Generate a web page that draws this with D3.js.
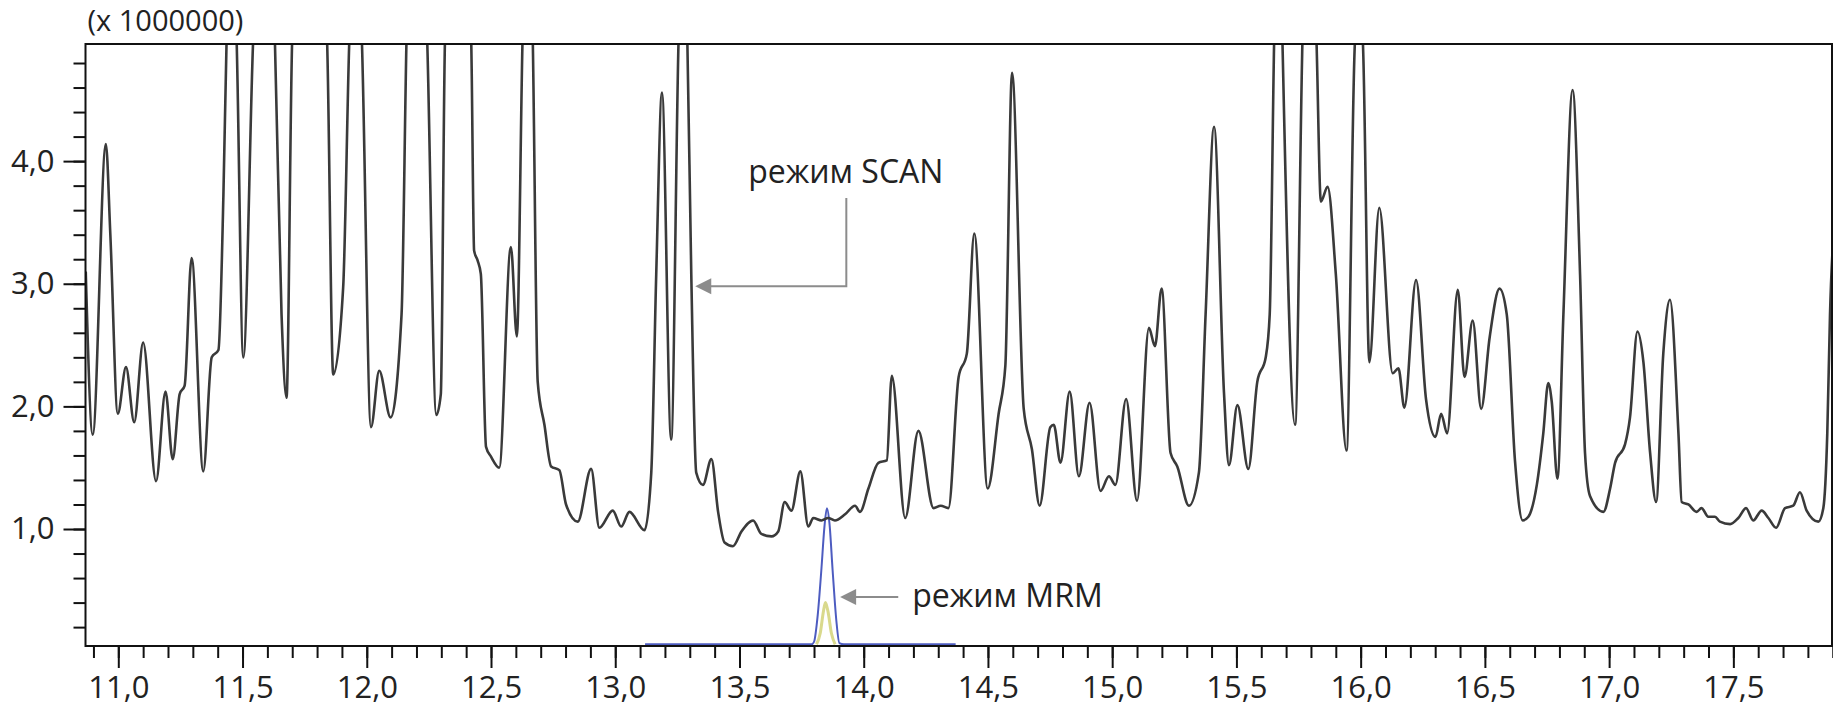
<!DOCTYPE html>
<html>
<head>
<meta charset="utf-8">
<script src="https://cdn.jsdelivr.net/npm/d3@7"></script>
<style>
  html, body { margin: 0; padding: 0; background: #fff; }
  svg { display: block; }
</style>
</head>
<body>
<div id="chart"></div>
<script>
// retention time, min  /  signal, x 1 000 000 (SCAN trace)
const scanTime = [
  10.869, 10.897, 10.950, 10.968, 10.998, 11.031, 11.064, 11.100, 11.152, 11.190,
  11.219, 11.247, 11.267, 11.295, 11.342, 11.376, 11.403, 11.423, 11.436, 11.456,
  11.476, 11.503, 11.543, 11.585, 11.630, 11.657, 11.677, 11.700, 11.770, 11.840,
  11.865, 11.905, 11.930, 11.955, 11.980, 12.017, 12.050, 12.096, 12.140, 12.160,
  12.200, 12.243, 12.280, 12.298, 12.315, 12.365, 12.420, 12.432, 12.446, 12.459,
  12.480, 12.500, 12.533, 12.580, 12.604, 12.627, 12.648, 12.668, 12.688, 12.715,
  12.742, 12.775, 12.802, 12.849, 12.903, 12.936, 12.990, 13.024, 13.057, 13.118,
  13.145, 13.165, 13.188, 13.225, 13.255, 13.272, 13.290, 13.306, 13.326, 13.353,
  13.387, 13.414, 13.440, 13.474, 13.508, 13.555, 13.588, 13.629, 13.656, 13.682,
  13.709, 13.745, 13.777, 13.797, 13.830, 13.857, 13.884, 13.925, 13.965, 13.985,
  14.019, 14.059, 14.093, 14.113, 14.167, 14.220, 14.281, 14.310, 14.341, 14.382,
  14.415, 14.445, 14.499, 14.543, 14.570, 14.597, 14.644, 14.677, 14.708, 14.751,
  14.765, 14.792, 14.829, 14.866, 14.909, 14.953, 14.987, 15.013, 15.056, 15.100,
  15.148, 15.172, 15.199, 15.235, 15.262, 15.309, 15.349, 15.376, 15.410, 15.450,
  15.470, 15.504, 15.548, 15.584, 15.618, 15.634, 15.652, 15.670, 15.685, 15.736,
  15.766, 15.790, 15.822, 15.840, 15.867, 15.900, 15.943, 15.978, 15.994, 16.008,
  16.035, 16.075, 16.129, 16.152, 16.176, 16.223, 16.263, 16.301, 16.324, 16.348,
  16.391, 16.418, 16.451, 16.485, 16.519, 16.559, 16.588, 16.621, 16.652, 16.675,
  16.709, 16.735, 16.755, 16.769, 16.792, 16.816, 16.853, 16.883, 16.903, 16.923,
  16.977, 17.004, 17.024, 17.064, 17.084, 17.114, 17.138, 17.165, 17.189, 17.218,
  17.245, 17.279, 17.292, 17.319, 17.352, 17.372, 17.399, 17.426, 17.446, 17.487,
  17.520, 17.551, 17.580, 17.614, 17.641, 17.672, 17.708, 17.741, 17.768, 17.795,
  17.842, 17.862, 17.878, 17.889, 17.910
];
const scanSignal = [
  3.10, 1.77, 4.14, 3.40, 1.94, 2.32, 1.87, 2.52, 1.39, 2.12,
  1.57, 2.10, 2.17, 3.21, 1.47, 2.40, 2.46, 3.72, 5.00, 6.00,
  5.00, 2.40, 5.00, 6.50, 5.00, 2.75, 2.07, 5.00, 7.00, 5.00,
  2.26, 2.97, 5.00, 6.00, 5.00, 1.83, 2.29, 1.91, 2.75, 5.00,
  7.00, 5.00, 1.93, 2.10, 5.00, 6.50, 5.00, 3.27, 3.19, 3.08,
  1.67, 1.59, 1.50, 3.30, 2.57, 5.00, 6.50, 5.00, 2.20, 1.85,
  1.51, 1.48, 1.20, 1.06, 1.49, 1.01, 1.15, 1.02, 1.14, 0.99,
  1.46, 3.08, 4.56, 1.73, 5.00, 6.00, 5.00, 3.08, 1.46, 1.36,
  1.57, 1.14, 0.89, 0.86, 0.98, 1.07, 0.96, 0.94, 0.98, 1.22,
  1.15, 1.47, 1.02, 1.09, 1.07, 1.09, 1.07, 1.12, 1.19, 1.14,
  1.33, 1.54, 1.56, 2.25, 1.09, 1.80, 1.17, 1.19, 1.17, 2.24,
  2.43, 3.41, 1.33, 1.94, 2.33, 4.72, 1.98, 1.65, 1.19, 1.83,
  1.85, 1.54, 2.12, 1.43, 2.03, 1.31, 1.43, 1.36, 2.06, 1.23,
  2.64, 2.49, 2.96, 1.62, 1.51, 1.19, 1.46, 2.75, 4.28, 2.11,
  1.52, 2.01, 1.49, 2.20, 2.40, 2.75, 5.00, 6.50, 5.00, 1.85,
  5.00, 6.50, 5.00, 3.67, 3.79, 3.08, 1.64, 5.00, 5.15, 5.00,
  2.36, 3.62, 2.27, 2.31, 1.99, 3.03, 2.06, 1.75, 1.94, 1.78,
  2.95, 2.24, 2.70, 1.98, 2.56, 2.96, 2.75, 1.56, 1.07, 1.10,
  1.36, 1.78, 2.19, 2.04, 1.41, 2.75, 4.58, 3.08, 1.62, 1.27,
  1.14, 1.33, 1.54, 1.69, 1.91, 2.61, 2.36, 1.62, 1.22, 2.43,
  2.87, 1.78, 1.22, 1.20, 1.14, 1.17, 1.10, 1.10, 1.06, 1.04,
  1.09, 1.17, 1.07, 1.15, 1.09, 1.01, 1.17, 1.19, 1.30, 1.15,
  1.06, 1.17, 1.78, 2.75, 3.60
];

// MRM trace (blue) and its qualifier ion (yellow)
const mrmTime   = [13.120, 13.790, 13.800, 13.815, 13.830, 13.842, 13.852, 13.862, 13.875, 13.890, 13.902, 13.920, 14.370];
const mrmSignal = [0.06,   0.06,   0.08,   0.30,   0.68,   1.02,   1.17,   1.05,   0.66,   0.25,   0.07,   0.06,   0.06];
const qualTime   = [13.810, 13.825, 13.838, 13.846, 13.856, 13.870, 13.885];
const qualSignal = [0.06,   0.15,   0.33,   0.40,   0.33,   0.15,   0.06];

// axes
const xMajorTicks = [11.0, 11.5, 12.0, 12.5, 13.0, 13.5, 14.0, 14.5, 15.0, 15.5, 16.0, 16.5, 17.0, 17.5];
const yMajorTicks = [1.0, 2.0, 3.0, 4.0];
const yTitle = "(x 1000000)";

// annotations: label, arrow tip, elbow, label anchor (data units)
const scanNote = { text: "режим SCAN", tip: [13.322, 2.98], elbow: [13.93, 2.98], end: [13.93, 3.70], at: [13.535, 3.82] };
const mrmNote  = { text: "режим MRM",  tip: [13.905, 0.445], end: [14.139, 0.445], at: [14.195, 0.364] };

// ===== THEME =====
const W = 1833, H = 712;
const M = { left: 85.5, top: 44, right: 1, bottom: 66 };
const FONT = "'Open Sans', 'DejaVu Sans', sans-serif";
const COLORS = {
  scan: "#3a3a3a",
  mrm: "#4d5cc0",
  qual: "#d9d98c",
  frame: "#111",
  text: "#222",
  arrow: "#8c8c8c"
};

const svg = d3.select("#chart").append("svg")
  .attr("width", W).attr("height", H)
  .style("background", "#fff");

const x = d3.scaleLinear().domain([10.868, 17.897]).range([M.left, W - M.right]);
const y = d3.scaleLinear().domain([0.046, 4.955]).range([H - M.bottom, M.top]);

const comma = d3.formatLocale({ decimal: ",", thousands: " ", grouping: [3], currency: ["", ""] }).format(".1f");

// minor ticks every 0.1 / 0.2
const xMinor = d3.range(109, 180).map(d => d / 10);
const yMinor = d3.range(1, 25).map(d => d / 5);

const styleAxis = g => {
  g.select(".domain").remove();
  g.selectAll(".tick line").attr("stroke", COLORS.frame).attr("stroke-width", 2);
  g.selectAll(".tick text")
    .attr("fill", COLORS.text)
    .style("font-family", FONT)
    .style("font-size", "31px");
};

svg.append("g")
  .attr("transform", `translate(0,${H - M.bottom})`)
  .call(d3.axisBottom(x).tickValues(xMinor).tickSize(12).tickFormat(""))
  .call(styleAxis);
svg.append("g")
  .attr("transform", `translate(0,${H - M.bottom})`)
  .call(d3.axisBottom(x).tickValues(xMajorTicks).tickSize(22).tickPadding(8).tickFormat(comma))
  .call(styleAxis);

svg.append("g")
  .attr("transform", `translate(${M.left},0)`)
  .call(d3.axisLeft(y).tickValues(yMinor).tickSize(12).tickFormat(""))
  .call(styleAxis);
svg.append("g")
  .attr("transform", `translate(${M.left},0)`)
  .call(d3.axisLeft(y).tickValues(yMajorTicks).tickSize(22).tickPadding(9).tickFormat(comma))
  .call(styleAxis);

// unit label above the frame
svg.append("text")
  .attr("x", M.left + 2).attr("y", 31)
  .attr("fill", COLORS.text)
  .style("font-family", FONT)
  .style("font-size", "29px")
  .text(yTitle);

// clip traces to the plot frame
svg.append("clipPath").attr("id", "plot")
  .append("rect")
  .attr("x", M.left).attr("y", M.top)
  .attr("width", W - M.right - M.left).attr("height", H - M.bottom - M.top);

const line = d3.line().x(d => x(d[0])).y(d => y(d[1])).curve(d3.curveMonotoneX);
const traces = svg.append("g").attr("clip-path", "url(#plot)");

traces.append("path")
  .attr("d", line(d3.zip(qualTime, qualSignal)))
  .attr("fill", "none").attr("stroke", COLORS.qual).attr("stroke-width", 3);
traces.append("path")
  .attr("d", line(d3.zip(mrmTime, mrmSignal)))
  .attr("fill", "none").attr("stroke", COLORS.mrm).attr("stroke-width", 2);
traces.append("path")
  .attr("d", line(d3.zip(scanTime, scanSignal)))
  .attr("fill", "none").attr("stroke", COLORS.scan)
  .attr("stroke-width", 2.6).attr("stroke-linejoin", "round");

// frame
svg.append("rect")
  .attr("x", M.left).attr("y", M.top)
  .attr("width", W - M.right - M.left).attr("height", H - M.bottom - M.top)
  .attr("fill", "none").attr("stroke", COLORS.frame).attr("stroke-width", 2);

// ===== annotations =====
const P = d => [x(d[0]), y(d[1])];
const arrowHead = (tip) => {
  const [tx, ty] = P(tip);
  return `M${tx},${ty}L${tx + 16},${ty - 8}L${tx + 16},${ty + 8}Z`;
};
const drawNote = note => {
  const pts = [note.tip, note.elbow, note.end].filter(Boolean).map(P);
  pts[0] = [pts[0][0] + 14, pts[0][1]];
  svg.append("path")
    .attr("d", d3.line()(pts))
    .attr("fill", "none").attr("stroke", COLORS.arrow).attr("stroke-width", 2);
  svg.append("path").attr("d", arrowHead(note.tip)).attr("fill", COLORS.arrow);
  svg.append("text")
    .attr("x", x(note.at[0])).attr("y", y(note.at[1]))
    .attr("fill", COLORS.text)
    .style("font-family", FONT)
    .style("font-size", "32px")
    .text(note.text);
};
drawNote(scanNote);
drawNote(mrmNote);
</script>
</body>
</html>
